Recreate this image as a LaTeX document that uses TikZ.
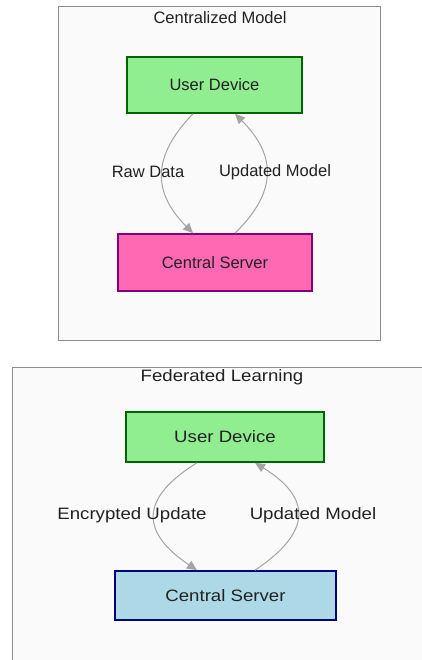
\documentclass[tikz,border=0pt]{standalone}
\usepackage{fontspec}
\setmainfont{Liberation Sans}
\newfontfamily\widesans[FakeStretch=1.13]{Liberation Sans}
\usepackage{xcolor}
\usetikzlibrary{arrows.meta}
\definecolor{panelfill}{HTML}{FAFAFB}
\definecolor{panelline}{HTML}{8C8C8C}
\definecolor{edgegray}{HTML}{A4A4A8}
\definecolor{devfill}{HTML}{90EE90}
\definecolor{devline}{HTML}{006400}
\definecolor{srvpink}{HTML}{FF69B4}
\definecolor{srvpurple}{HTML}{800080}
\definecolor{srvblue}{HTML}{ADD8E6}
\definecolor{srvnavy}{HTML}{000080}
\definecolor{labeltext}{HTML}{222222}

\begin{document}
\begin{tikzpicture}[x=1pt,y=-1pt,
	font=\fontsize{16.5}{19}\selectfont,text=labeltext,
	panel/.style={draw=panelline,fill=panelfill,line width=1pt},
	box/.style={draw,line width=1.6pt,inner sep=0pt},
	flow/.style={-{Triangle[length=10pt,width=9pt]},draw=edgegray,line width=1pt}]
		\useasboundingbox(0,0)rectangle(422,660);
		\clip(0,0)rectangle(422,660);
		\fill[white](0,0)rectangle(422,660);
		% centralized
		\draw[panel](58,7)rectangle(380,340);
		\node (ctitle) at(220,18){Centralized Model};
		\node[box,draw=devline,fill=devfill,minimum width=175,minimum height=56] (cdev) at(214.5,85){User Device};
		\node[box,draw=srvpurple,fill=srvpink,minimum width=194,minimum height=57] (csrv) at(215,262.5){Central Server};
		\draw[flow]([xshift=-21.5]cdev.south)..controls(152,156)and(152,192)..([xshift=-22]csrv.north);
		\draw[flow]([xshift=20]csrv.north)..controls(277,192)and(277,156)..([xshift=20.5]cdev.south);
		\node (craw) at(148,172){Raw Data};
		\node (cupd) at(275,172){Updated Model};
		% federated
		\begin{scope}[font=\widesans\fontsize{16.5}{19}\selectfont]
		\draw[panel](12,367)rectangle(440,680);
		\node (ftitle) at(222,377.5){Federated Learning};
		\node[box,draw=devline,fill=devfill,minimum width=198,minimum height=50] (fdev) at(225,437){User Device};
		\node[box,draw=srvnavy,fill=srvblue,minimum width=221,minimum height=49] (fsrv) at(225.5,595.5){Central Server};
		\draw[flow]([xshift=-28]fdev.south)..controls(140,498)and(140,532)..([xshift=-28.5]fsrv.north);
		\draw[flow]([xshift=29.5]fsrv.north)..controls(312,532)and(312,498)..([xshift=30]fdev.south);
		\node (fenc) at(132,515){Encrypted Update};
		\node (fupd) at(313,515){Updated Model};
		\end{scope}
\end{tikzpicture}
\end{document}
